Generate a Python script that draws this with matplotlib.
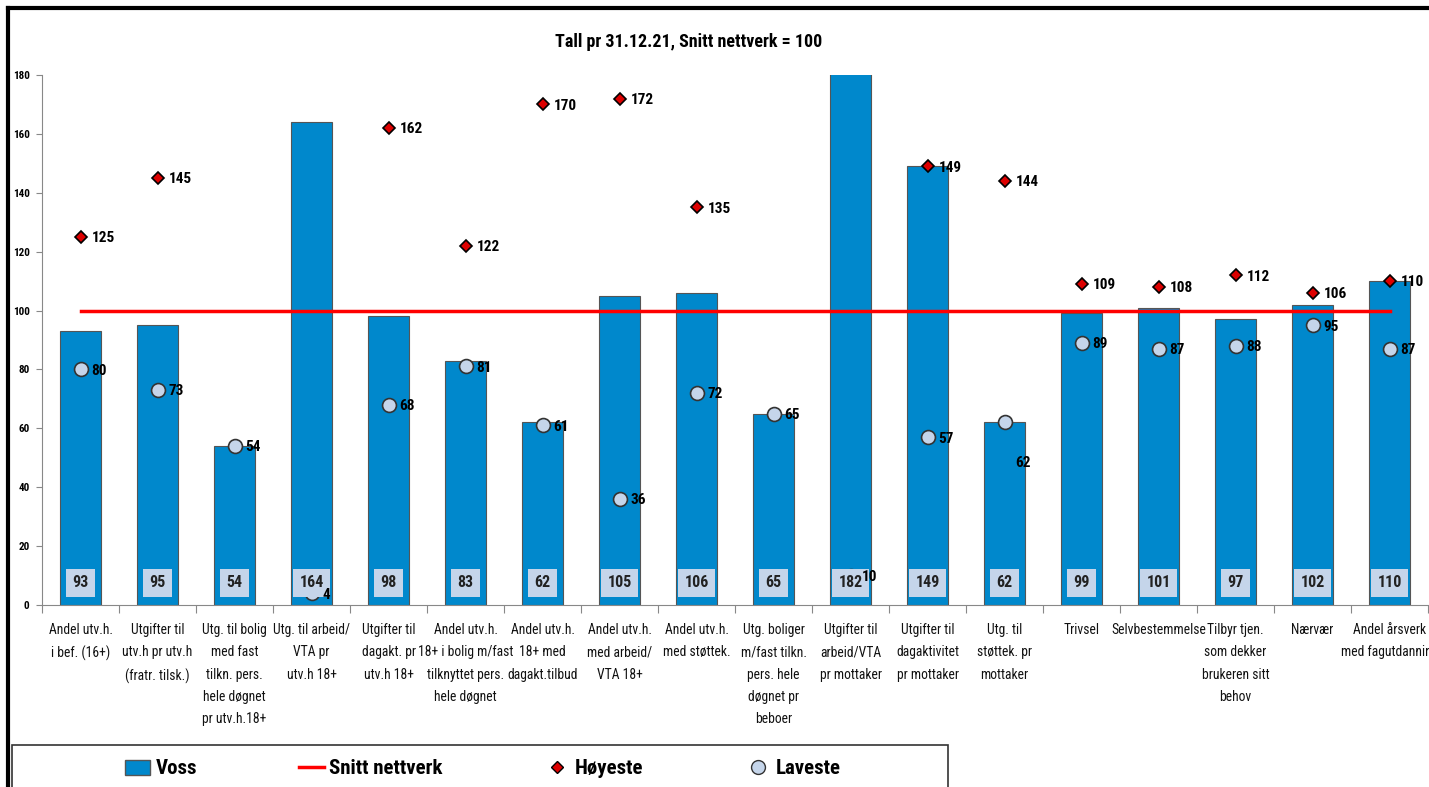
import matplotlib.pyplot as plt
from matplotlib.patches import Rectangle, Patch
from matplotlib.lines import Line2D

plt.rcParams['font.family'] = ['Roboto Condensed', 'DejaVu Sans']

categories = [
    "Andel utv.h.\ni bef. (16+)",
    "Utgifter til\nutv.h pr utv.h\n(fratr. tilsk.)",
    "Utg. til bolig\nmed fast\ntilkn. pers.\nhele døgnet\npr utv.h.18+",
    "Utg. til arbeid/\nVTA pr\nutv.h 18+",
    "Utgifter til\ndagakt. pr\nutv.h 18+",
    "Andel utv.h.\n18+ i bolig m/fast\ntilknyttet pers.\nhele døgnet",
    "Andel utv.h.\n18+ med\ndagakt.tilbud",
    "Andel utv.h.\nmed arbeid/\nVTA 18+",
    "Andel utv.h.\nmed støttek.",
    "Utg. boliger\nm/fast tilkn.\npers. hele\ndøgnet pr\nbeboer",
    "Utgifter til\narbeid/VTA\npr mottaker",
    "Utgifter til\ndagaktivitet\npr mottaker",
    "Utg. til\nstøttek. pr\nmottaker",
    "Trivsel",
    "Selvbestemmelse",
    "Tilbyr tjen.\nsom dekker\nbrukeren sitt\nbehov",
    "Nærvær",
    "Andel årsverk\nmed fagutdanning",
]
voss = [93, 95, 54, 164, 98, 83, 62, 105, 106, 65, 182, 149, 62, 99, 101, 97, 102, 110]
hoyeste = [125, 145, None, None, 162, 122, 170, 172, 135, None, None, 149, 144, 109, 108, 112, 106, 110]
laveste = [80, 73, 54, 4, 68, 81, 61, 36, 72, 65, 10, 57, 62, 89, 87, 88, 95, 87]
snitt = 100

bar_color = '#0088cc'
box_color = '#c5d5ea'

fig = plt.figure(figsize=(14.29, 7.87), dpi=100)
ax = fig.add_axes([0.0294, 0.2313, 0.9699, 0.6734])

x = list(range(len(categories)))
ax.bar(x, voss, width=0.52, color=bar_color, edgecolor='#555555', linewidth=0.8, zorder=2)

# snitt nettverk
ax.plot([x[0], x[-1]], [snitt, snitt], color='red', lw=2.5, zorder=3)

# høyeste
hx = [i for i, v in zip(x, hoyeste) if v is not None]
hy = [v for v in hoyeste if v is not None]
ax.plot(hx, hy, ls='none', marker='D', ms=6, mfc='#dd0000', mec='black', mew=1.2, zorder=4)
for i, v in zip(hx, hy):
    ax.annotate(str(v), (i, v), xytext=(8, -1), textcoords='offset points',
                va='center', ha='left', fontsize=11, fontweight='bold', zorder=7)

# laveste
ax.plot(x, laveste, ls='none', marker='o', ms=10, mfc=box_color, mec='#333333', mew=1.2, zorder=4)
for i, v in zip(x, laveste):
    dy = -29 if i == 12 else -1
    ax.annotate(str(v), (i, v), xytext=(8, dy), textcoords='offset points',
                va='center', ha='left', fontsize=11, fontweight='bold', zorder=7)

# verdier i søylene
for i, v in zip(x, voss):
    ax.text(i, 7.5, str(v), ha='center', va='center', fontsize=11.5, fontweight='bold', color='#222222',
            bbox=dict(boxstyle='square,pad=0.4', fc=box_color, ec='none'), zorder=6)

ax.set_xlim(-0.5, len(categories) - 0.5)
ax.set_ylim(0, 180)
ax.set_yticks(range(0, 181, 20))
for lab in ax.get_yticklabels():
    lab.set_fontweight('bold')
ax.tick_params(axis='y', labelsize=8, length=4, color='#888888', pad=5)

ax.set_xticks([i - 0.5 for i in x] + [len(x) - 0.5])
ax.set_xticklabels([])
ax.set_xticks(x, minor=True)
ax.set_xticklabels(categories, minor=True, fontsize=9.8, linespacing=1.75, va='top', color='#111111')
ax.tick_params(axis='x', which='major', length=6, color='#888888')
ax.tick_params(axis='x', which='minor', length=0, pad=13)

for s in ['top', 'right']:
    ax.spines[s].set_visible(False)
ax.spines['left'].set_color('#888888')
ax.spines['bottom'].set_color('#888888')

fig.text(0.482, 0.946, "Tall pr 31.12.21, Snitt nettverk = 100", ha='center', va='center',
         fontsize=13, fontweight='bold')

# legend
fig.patches.append(Rectangle((12 / 1429, -0.01), 936 / 1429, 0.063, transform=fig.transFigure,
                             fill=False, ec='#333333', lw=1.2))
handles = [
    Patch(fc=bar_color, ec='#555555'),
    Line2D([], [], color='red', lw=2.5),
    Line2D([], [], ls='none', marker='D', ms=6, mfc='#dd0000', mec='black'),
    Line2D([], [], ls='none', marker='o', ms=10, mfc=box_color, mec='#333333'),
]
fig.legend(handles, ['Voss', 'Snitt nettverk', 'Høyeste', 'Laveste'], loc='center',
           bbox_to_anchor=(483 / 1429, 1 - 769 / 787), ncol=4, frameon=False,
           prop={'size': 15, 'weight': 'bold'}, columnspacing=4.9, handlelength=1.2,
           handletextpad=0.25)

# ytre ramme
fig.add_artist(Line2D([8 / 1429, 8 / 1429], [0, 1 - 8 / 787], color='black', lw=3, transform=fig.transFigure))
fig.add_artist(Line2D([8 / 1429, 1], [1 - 8 / 787, 1 - 8 / 787], color='black', lw=3, transform=fig.transFigure))

fig.savefig('out.png', dpi=100)
